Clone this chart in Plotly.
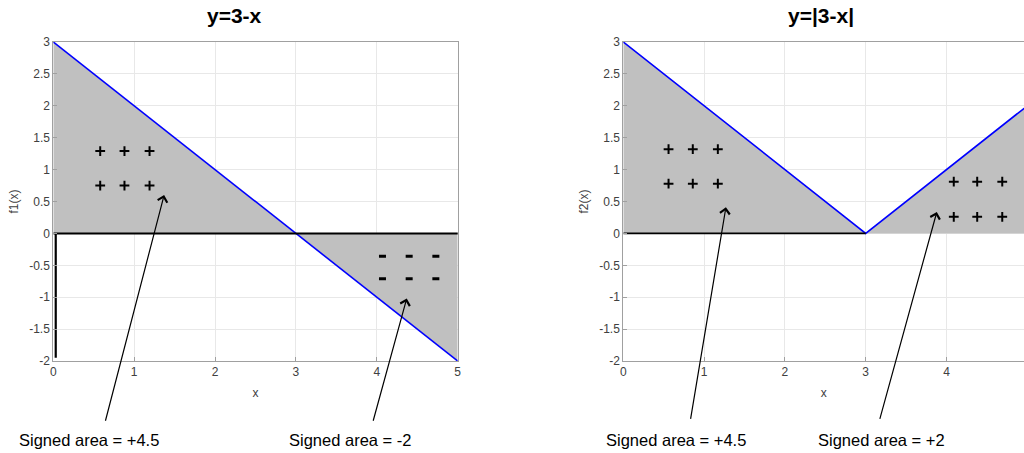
import plotly.graph_objects as go

W, H = 1024, 453

# ---- data ----
x_vals = [0, 3, 5]
f1_vals = [3, 0, -2]
f2_vals = [3, 0, 2]

y_ticks = [-2, -1.5, -1, -0.5, 0, 0.5, 1, 1.5, 2, 2.5, 3]
y_ticktext = ["-2", "-1.5", "-1", "-0.5", "0", "0.5", "1", "1.5", "2", "2.5", "3"]
x_ticks = [0, 1, 2, 3, 4, 5]
x_ticktext = ["0", "1", "2", "3", "4", "5"]

# sign markers
plus1_x = [0.58, 0.88, 1.19, 0.58, 0.88, 1.19]
plus1_y = [1.29, 1.29, 1.29, 0.75, 0.75, 0.75]
minus1_x = [4.07, 4.40, 4.73, 4.07, 4.40, 4.73]
minus1_y = [-0.36, -0.36, -0.36, -0.71, -0.71, -0.71]
plus2a_x = [0.56, 0.86, 1.17, 0.56, 0.86, 1.17]
plus2a_y = [1.32, 1.32, 1.32, 0.78, 0.78, 0.78]
plus2b_x = [4.09, 4.38, 4.69, 4.09, 4.38, 4.69]
plus2b_y = [0.81, 0.81, 0.81, 0.26, 0.26, 0.26]

# arrows: (head x, head y, tail x, tail y)
arrows_left = [(1.37, 0.60, 0.64, -2.96), (4.37, -1.02, 3.95, -2.96)]
arrows_right = [(1.27, 0.41, 0.83, -2.93), (3.88, 0.335, 3.17, -2.93)]

area_labels_left = ["Signed area = +4.5", "Signed area = -2"]
area_labels_right = ["Signed area = +4.5", "Signed area = +2"]

fig = go.Figure()

FILL = "#c0c0c0"
BLUE = "#0000ff"
FONT = "Liberation Sans, Arial"

# left subplot
fig.add_trace(go.Scatter(x=x_vals, y=f1_vals, mode="lines", fill="tozeroy",
                         fillcolor=FILL, line=dict(color=BLUE, width=1.6),
                         xaxis="x", yaxis="y", showlegend=False))
fig.add_trace(go.Scatter(x=[0, 5.02], y=[0, 0], mode="lines", line=dict(color="black", width=2),
                         xaxis="x", yaxis="y", showlegend=False, cliponaxis=False))
fig.add_trace(go.Scatter(x=[0.03, 0.03], y=[0, -1.95], mode="lines", line=dict(color="black", width=2.2),
                         xaxis="x", yaxis="y", showlegend=False))
fig.add_trace(go.Scatter(x=plus1_x, y=plus1_y, mode="markers",
                         marker=dict(symbol="cross-thin", size=7, line=dict(color="black", width=2)),
                         xaxis="x", yaxis="y", showlegend=False))
fig.add_trace(go.Scatter(x=minus1_x, y=minus1_y, mode="markers",
                         marker=dict(symbol="line-ew", size=5, line=dict(color="black", width=3)),
                         xaxis="x", yaxis="y", showlegend=False))

# right subplot
fig.add_trace(go.Scatter(x=x_vals, y=f2_vals, mode="lines", fill="tozeroy",
                         fillcolor=FILL, line=dict(color=BLUE, width=1.6),
                         xaxis="x2", yaxis="y2", showlegend=False))
fig.add_trace(go.Scatter(x=[0, 3], y=[0, 0], mode="lines", line=dict(color="black", width=1.6),
                         xaxis="x2", yaxis="y2", showlegend=False))
fig.add_trace(go.Scatter(x=plus2a_x + plus2b_x, y=plus2a_y + plus2b_y, mode="markers",
                         marker=dict(symbol="cross-thin", size=7, line=dict(color="black", width=2)),
                         xaxis="x2", yaxis="y2", showlegend=False))

px_x = lambda p: p / W
px_y = lambda p: 1 - p / H

ydom = [px_y(361), px_y(42)]
axis_common = dict(showgrid=True, gridcolor="#e8e8e8", gridwidth=1, zeroline=False,
                   showline=True, linecolor="#a0a0a0", linewidth=1, mirror=True,
                   ticks="inside", ticklen=4, tickcolor="#a0a0a0", automargin=False,
                   tickfont=dict(family=FONT, size=12, color="#404040"))
title_f = dict(family=FONT, size=12, color="#404040")

fig.update_layout(
    width=W, height=H, margin=dict(l=0, r=0, t=0, b=0, autoexpand=False),
    paper_bgcolor="white", plot_bgcolor="white",
    xaxis=dict(domain=[px_x(53.3), px_x(457.7)], range=[0, 5], tickvals=x_ticks, ticktext=x_ticktext,
               anchor="y", title=dict(text="x", font=title_f, standoff=10), **axis_common),
    yaxis=dict(domain=ydom, range=[-2, 3], tickvals=y_ticks, ticktext=y_ticktext, anchor="x",
               title=dict(text="f1(x)", font=title_f, standoff=8), **axis_common),
    xaxis2=dict(domain=[px_x(623.3), 1], range=[0, (1024 - 623.3) / 80.8], tickvals=x_ticks[:5], ticktext=x_ticktext[:5],
                anchor="y2", title=dict(text="x", font=title_f, standoff=10), **axis_common),
    yaxis2=dict(domain=ydom, range=[-2, 3], tickvals=y_ticks, ticktext=y_ticktext, anchor="x2",
                title=dict(text="f2(x)", font=title_f, standoff=8), **axis_common),
)

annotations = []
for (hx, hy, tx, ty), xr, yr in [(a, "x", "y") for a in arrows_left] + [(a, "x2", "y2") for a in arrows_right]:
    annotations.append(dict(x=hx, y=hy, xref=xr, yref=yr, ax=tx, ay=ty, axref=xr, ayref=yr,
                            text="", showarrow=True, arrowhead=4, arrowsize=1.6, arrowwidth=1.2,
                            arrowcolor="black"))

label_font = dict(family=FONT, size=16.5, color="black")
label_pos = [(18, area_labels_left[0]), (288, area_labels_left[1]),
             (605, area_labels_right[0]), (817, area_labels_right[1])]
for lx, txt in label_pos:
    annotations.append(dict(x=px_x(lx), y=px_y(440), xref="paper", yref="paper", text=txt,
                            showarrow=False, font=label_font, xanchor="left", yanchor="middle",
                            borderpad=0))

title_font = dict(family=FONT, size=21, color="black")
annotations.append(dict(x=px_x(234), y=px_y(16), xref="paper", yref="paper", text="<b>y=3-x</b>",
                        showarrow=False, font=title_font, xanchor="center", yanchor="middle"))
annotations.append(dict(x=px_x(821), y=px_y(16), xref="paper", yref="paper", text="<b>y=|3-x|</b>",
                        showarrow=False, font=title_font, xanchor="center", yanchor="middle"))

fig.update_layout(annotations=annotations)
fig.write_html("out.html", config={"displayModeBar": False})

# remove the default page margin so the figure sits at the window's top-left corner
with open("out.html", "r", encoding="utf-8") as fh:
    html = fh.read()
html = html.replace("<body>", '<body style="margin:0;padding:0;overflow:hidden">', 1)
with open("out.html", "w", encoding="utf-8") as fh:
    fh.write(html)
